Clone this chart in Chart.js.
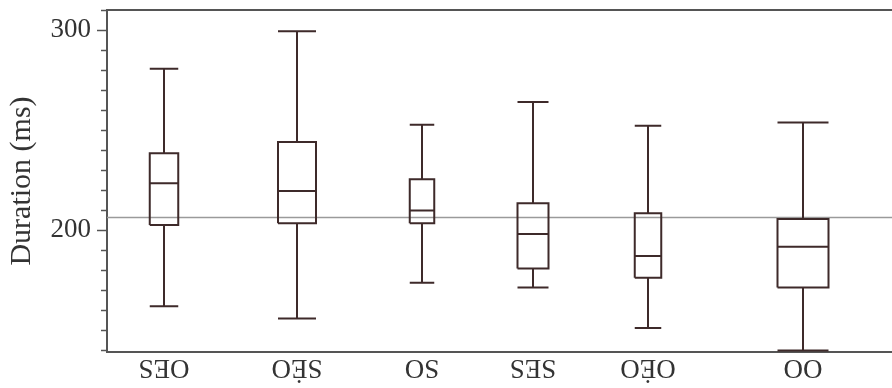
<!DOCTYPE html>
<html>
<head>
<meta charset="utf-8">
<script src="https://cdn.jsdelivr.net/npm/chart.js@4.4.1/dist/chart.umd.min.js"></script>
<style>
  html, body { margin: 0; padding: 0; background: #fff; }
  #wrap { width: 892px; height: 388px; }
</style>
</head>
<body>
<div id="wrap"><canvas id="grafico" width="892" height="388"></canvas></div>
<script>
// gruppi (le etichette sono stampate capovolte nell'originale)
const categorie = ["OES", "SĖO", "SO", "SES", "OĖO", "OO"];
// numerosità stimata dei gruppi (la larghezza dei box segue questi valori)
const numerosita = [57, 76, 49, 62, 53, 102];

const baffoMax = [280.6, 299.4, 252.6, 264.0, 252.1, 253.8];
const quartile3 = [238.4, 244.0, 225.4, 213.4, 208.4, 205.5];
const mediana = [223.4, 219.5, 209.7, 198.0, 187.0, 191.6];
const quartile1 = [202.5, 203.4, 203.4, 180.8, 176.1, 171.3];
const baffoMin = [161.9, 155.7, 173.6, 171.3, 151.0, 139.8];

const mediaGenerale = 206.2;

const yMin = 139, yMax = 310;
const xMax = 392.5; // l'immagine originale taglia l'ultimo gruppo

// centri dei gruppi sull'asse x (cumulata della numerosità)
const centri = [];
let cumulata = 0;
numerosita.forEach(n => {
    centri.push(cumulata + n / 2);
    cumulata += n;
});

// costruisce box, mediana, baffi e cappucci come segmenti separati da null
const puntiBox = [];
categorie.forEach((c, i) => {
    const xc = centri[i];
    const mezza = numerosita[i] / 8;
    const l = xc - mezza, r = xc + mezza;
    const seg = (pts) => {
        pts.forEach(p => puntiBox.push({ x: p[0], y: p[1] }));
        puntiBox.push({ x: xc, y: null });
    };
    seg([[l, quartile1[i]], [r, quartile1[i]], [r, quartile3[i]], [l, quartile3[i]], [l, quartile1[i]]]);
    seg([[l, mediana[i]], [r, mediana[i]]]);
    seg([[xc, quartile3[i]], [xc, baffoMax[i]]]);
    seg([[l, baffoMax[i]], [r, baffoMax[i]]]);
    seg([[xc, quartile1[i]], [xc, baffoMin[i]]]);
    seg([[l, baffoMin[i]], [r, baffoMin[i]]]);
});

const coloreAssi = "#555555";
const coloreTesto = "#333333";
const fontSerif = "'Liberation Serif', 'Times New Roman', serif";

// tacche minori, bordo superiore ed etichette capovolte
const decorazioni = {
    id: "decorazioni",
    afterDraw(chart) {
        const ctx = chart.ctx;
        const area = chart.chartArea;
        const sy = chart.scales.y;
        const sx = chart.scales.x;
        ctx.save();
        ctx.strokeStyle = coloreAssi;
        ctx.lineWidth = 1.5;
        sy.ticks.forEach(t => {
            if (t.value % 100 === 0) return;
            const y = Math.round(sy.getPixelForValue(t.value)) + 0.5;
            ctx.beginPath();
            ctx.moveTo(area.left - 6, y);
            ctx.lineTo(area.left, y);
            ctx.stroke();
        });
        // linea superiore del riquadro
        ctx.lineWidth = 2;
        ctx.beginPath();
        ctx.moveTo(area.left - 1, area.top);
        ctx.lineTo(area.right, area.top);
        ctx.stroke();

        ctx.fillStyle = coloreTesto;
        ctx.font = "27px " + fontSerif;
        ctx.textAlign = "center";
        ctx.textBaseline = "alphabetic";
        categorie.forEach((c, i) => {
            const x = sx.getPixelForValue(centri[i]);
            ctx.save();
            ctx.translate(x, area.bottom + 8);
            ctx.rotate(Math.PI);
            ctx.fillText(c, 0, 0);
            ctx.restore();
        });
        ctx.restore();
    }
};

new Chart(document.getElementById("grafico").getContext("2d"), {
    type: "line",
    data: {
        datasets: [
            {
                label: "box",
                data: puntiBox,
                borderColor: "#3e2a2a",
                borderWidth: 2,
                pointRadius: 0,
                spanGaps: false,
                tension: 0,
                borderJoinStyle: "miter",
                fill: false
            },
            {
                label: "media",
                data: [{ x: 0, y: mediaGenerale }, { x: xMax, y: mediaGenerale }],
                borderColor: "#9a9a9a",
                borderWidth: 1.5,
                pointRadius: 0,
                fill: false
            }
        ]
    },
    options: {
        responsive: false,
        animation: false,
        layout: { padding: { top: 10, right: 0, bottom: 0, left: 0 } },
        plugins: {
            legend: { display: false },
            tooltip: { enabled: false }
        },
        scales: {
            x: {
                type: "linear",
                min: 0,
                max: xMax,
                ticks: { display: false },
                grid: { display: false, drawTicks: false },
                border: { color: coloreAssi, width: 2 },
                afterFit: s => { s.height = 36; s.paddingLeft = 0; s.paddingRight = 0; }
            },
            y: {
                type: "linear",
                min: yMin,
                max: yMax,
                ticks: {
                    stepSize: 10,
                    includeBounds: false,
                    autoSkip: false,
                    padding: 6,
                    color: coloreTesto,
                    font: { family: fontSerif, size: 27 },
                    callback: v => (v % 100 === 0 ? v : "")
                },
                grid: {
                    drawOnChartArea: false,
                    tickLength: 10,
                    tickWidth: 1.5,
                    tickColor: c => (c.tick && c.tick.value % 100 === 0 ? coloreAssi : "rgba(0,0,0,0)")
                },
                border: { color: coloreAssi, width: 2 },
                title: {
                    display: true,
                    text: "Duration (ms)",
                    color: coloreTesto,
                    font: { family: fontSerif, size: 30 },
                    padding: { top: 4, bottom: 0 }
                },
                afterFit: s => { s.width = 107; s.paddingTop = 0; s.paddingBottom = 0; }
            }
        }
    },
    plugins: [decorazioni]
});
</script>
</body>
</html>
